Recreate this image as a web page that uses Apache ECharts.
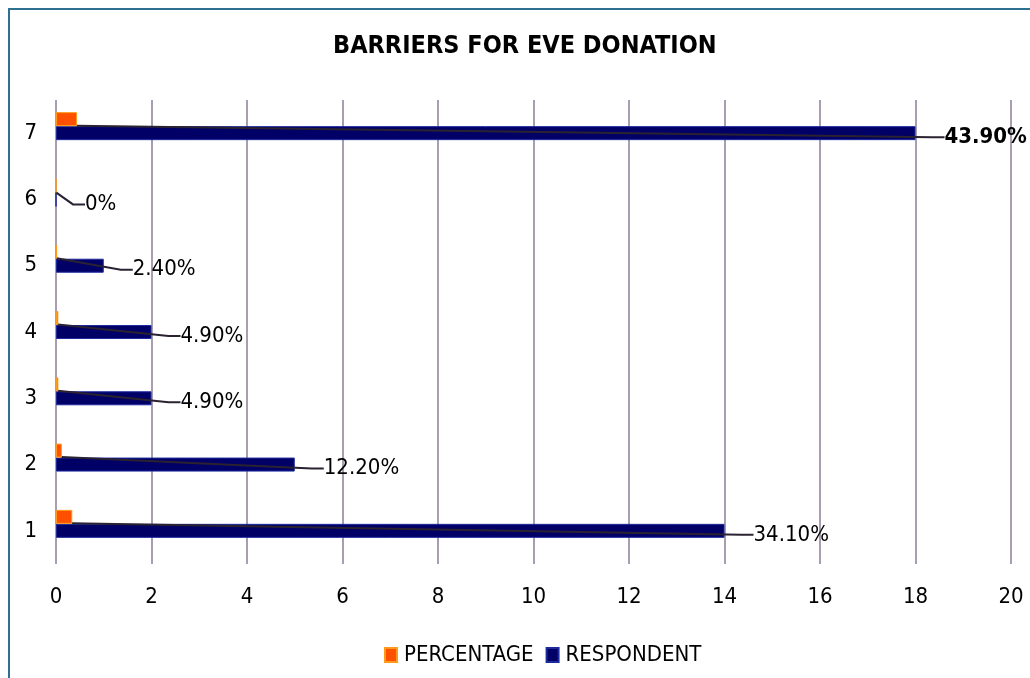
<!DOCTYPE html>
<html>
<head>
<meta charset="utf-8">
<style>
  html, body { margin: 0; padding: 0; background: #ffffff; }
  #chart { width: 1030px; height: 678px; }
</style>
<script src="https://cdn.jsdelivr.net/npm/echarts@6/dist/echarts.min.js"></script>
</head>
<body>
<div id="chart"></div>
<script>
// ---- data ----
const chartTitle = 'BARRIERS FOR EVE DONATION';
const categories = ['1', '2', '3', '4', '5', '6', '7'];
const respondent = [14, 5, 2, 2, 1, 0, 18];
const percentage = [0.341, 0.122, 0.049, 0.049, 0.024, 0, 0.439];
const seriesNames = ['PERCENTAGE', 'RESPONDENT'];
const xTicks = { min: 0, max: 20, interval: 2 };

// ---- chart ----
const FONT = "'Liberation Sans Narrow', 'DejaVu Sans Condensed', 'Open Sans', sans-serif";
const chart = echarts.init(document.getElementById('chart'), null, { renderer: 'canvas' });

const maxPct = Math.max.apply(null, percentage);
const pctData = percentage.map(function (v) {
  return v === maxPct ? { value: v, label: { fontWeight: 'bold' } } : v;
});

const option = {
  animation: false,
  backgroundColor: '#ffffff',
  title: {
    text: chartTitle,
    left: 328,
    top: 29,
    textStyle: { fontFamily: FONT, fontSize: 25, fontWeight: 'bold', color: '#000000' }
  },
  legend: {
    data: seriesNames,
    left: 379,
    top: 639,
    itemWidth: 12,
    itemHeight: 14,
    itemGap: 12,
    icon: 'rect',
    textStyle: { fontFamily: FONT, fontSize: 22, color: '#000000', padding: [0, 0, 0, 2] }
  },
  grid: {
    left: 56,
    right: 19,
    top: 100,
    bottom: 114,
    containLabel: false,
    outerBoundsMode: 'none'
  },
  xAxis: {
    type: 'value',
    min: xTicks.min,
    max: xTicks.max,
    interval: xTicks.interval,
    axisLine: { show: false },
    axisTick: { show: false },
    axisLabel: { fontFamily: FONT, fontSize: 22, color: '#000000', margin: 22 },
    splitLine: { show: true, lineStyle: { color: '#a99db2', width: 2 } }
  },
  yAxis: {
    type: 'category',
    data: categories,
    axisLine: { show: false },
    axisTick: { show: false },
    axisLabel: { fontFamily: FONT, fontSize: 22, color: '#000000', margin: 19 },
    splitLine: { show: false }
  },
  graphic: [{
    type: 'rect',
    shape: { x: 9, y: 9, width: 1200, height: 900 },
    style: { fill: null, stroke: '#2f6f8f', lineWidth: 2 },
    silent: true
  }],
  series: [
    {
      name: seriesNames[0],
      type: 'bar',
      data: pctData,
      barWidth: 14,
      barGap: '0%',
      itemStyle: { color: '#ff5000', borderColor: '#ff9a1a', borderWidth: 1 },
      label: {
        show: true,
        position: 'right',
        fontFamily: FONT,
        fontSize: 22,
        color: '#000000',
        padding: [0, 0, 0, 5],
        formatter: function (p) {
          return p.value === 0 ? '0%' : (p.value * 100).toFixed(2) + '%';
        }
      },
      labelLine: {
        show: true,
        length2: 12,
        lineStyle: { color: '#2a2230', width: 2 }
      },
      labelLayout: function (params) {
        const i = params.dataIndex;
        const endX = chart.convertToPixel({ xAxisIndex: 0 }, respondent[i]);
        const r = params.rect;
        return {
          x: endX + 24,
          y: r.y + r.height * 1.5 + 4,
          align: 'left',
          verticalAlign: 'middle'
        };
      },
      z: 3
    },
    {
      name: seriesNames[1],
      type: 'bar',
      data: respondent,
      barWidth: 14,
      barGap: '0%',
      itemStyle: { color: '#000066', borderColor: '#1c2a9c', borderWidth: 1 },
      z: 2
    },
    {
      name: '_spacer',
      type: 'bar',
      data: categories.map(function () { return '-'; }),
      barWidth: 14,
      barGap: '0%',
      silent: true
    }
  ]
};

chart.setOption(option);
</script>
</body>
</html>
